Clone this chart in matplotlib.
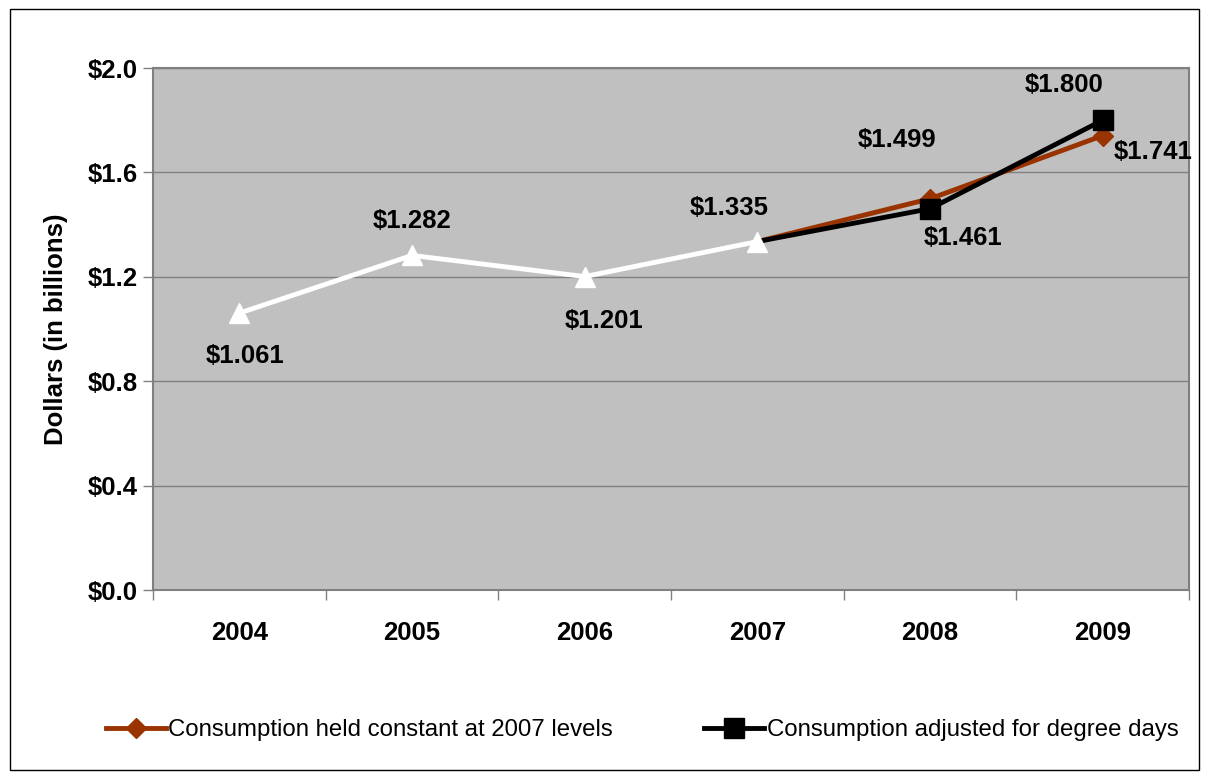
import matplotlib
matplotlib.use('Agg')
import matplotlib.pyplot as plt
from matplotlib.patches import Rectangle

years = ['2004', '2005', '2006', '2007', '2008', '2009']

# actual costs through 2007, two projections afterwards
hist_vals = [1.061, 1.282, 1.201, 1.335]
const_vals = [1.335, 1.499, 1.741]
degree_vals = [1.335, 1.461, 1.800]

hist_x = [0, 1, 2, 3]
proj_x = [3, 4, 5]

plt.rcParams['font.family'] = ['Liberation Sans', 'DejaVu Sans']

fig = plt.figure(figsize=(12.09, 7.79), dpi=100)
fig.patches.append(Rectangle((0.008, 0.012), 0.984, 0.976, transform=fig.transFigure,
                             fill=False, edgecolor='black', linewidth=1.0))

ax = fig.add_axes([0.1266, 0.2426, 0.8569, 0.6701])
ax.set_facecolor('#C0C0C0')

orange = '#993300'
ax.plot(proj_x, const_vals, color=orange, lw=3.5, marker='D', ms=10, markevery=[1, 2],
        label='Consumption held constant at 2007 levels', zorder=3)
ax.plot(proj_x, degree_vals, color='black', lw=3.5, marker='s', ms=14, markevery=[1, 2],
        label='Consumption adjusted for degree days', zorder=4)
ax.plot(hist_x, hist_vals, color='white', lw=3.5, marker='^', ms=15, zorder=5)

fs = 18.5
lab = dict(fontsize=fs, fontweight='bold', ha='center', va='center')
ax.annotate(f'${hist_vals[0]:.3f}', (hist_x[0], hist_vals[0]), xytext=(4, -31), textcoords='offset points', **lab)
ax.annotate(f'${hist_vals[1]:.3f}', (hist_x[1], hist_vals[1]), xytext=(0, 25), textcoords='offset points', **lab)
ax.annotate(f'${hist_vals[2]:.3f}', (hist_x[2], hist_vals[2]), xytext=(14, -32), textcoords='offset points', **lab)
ax.annotate(f'${hist_vals[3]:.3f}', (hist_x[3], hist_vals[3]), xytext=(-20, 24), textcoords='offset points', **lab)
ax.annotate(f'${const_vals[1]:.3f}', (proj_x[1], const_vals[1]), xytext=(-24, 42), textcoords='offset points', **lab)
ax.annotate(f'${degree_vals[1]:.3f}', (proj_x[1], degree_vals[1]), xytext=(24, -21), textcoords='offset points', **lab)
ax.annotate(f'${degree_vals[2]:.3f}', (proj_x[2], degree_vals[2]), xytext=(-28, 25), textcoords='offset points', **lab)
ax.annotate(f'${const_vals[2]:.3f}', (proj_x[2], const_vals[2]), xytext=(36, -12), textcoords='offset points', **lab)

ax.set_xlim(-0.5, 5.5)
ax.set_ylim(0, 2.0)
ax.set_yticks([0.0, 0.4, 0.8, 1.2, 1.6, 2.0])
ax.set_yticklabels([f'${v:.1f}' for v in [0.0, 0.4, 0.8, 1.2, 1.6, 2.0]],
                   fontsize=fs, fontweight='bold')
ax.set_xticks(range(len(years)))
ax.set_xticklabels(years, fontsize=fs, fontweight='bold')
ax.set_xticks([i - 0.5 for i in range(len(years) + 1)], minor=True)
ax.tick_params(axis='x', which='major', length=0, pad=22)
ax.tick_params(axis='x', which='minor', length=7, width=1, color='#808080', direction='out')
ax.tick_params(axis='y', length=7, width=1, color='#808080', direction='out', pad=4)

ax.grid(axis='y', color='#808080', lw=1)
ax.set_axisbelow(True)
for s in ax.spines.values():
    s.set_color('#808080')
    s.set_linewidth(1.5)

ax.set_ylabel('Dollars (in billions)', fontsize=fs, fontweight='bold', labelpad=14)

ax.legend(loc='center', bbox_to_anchor=(0.531, 0.063), bbox_transform=fig.transFigure,
          ncol=2, frameon=False, fontsize=17.3, handlelength=2.5, handletextpad=0.1,
          columnspacing=3.8)

fig.savefig('out.png', dpi=100)
